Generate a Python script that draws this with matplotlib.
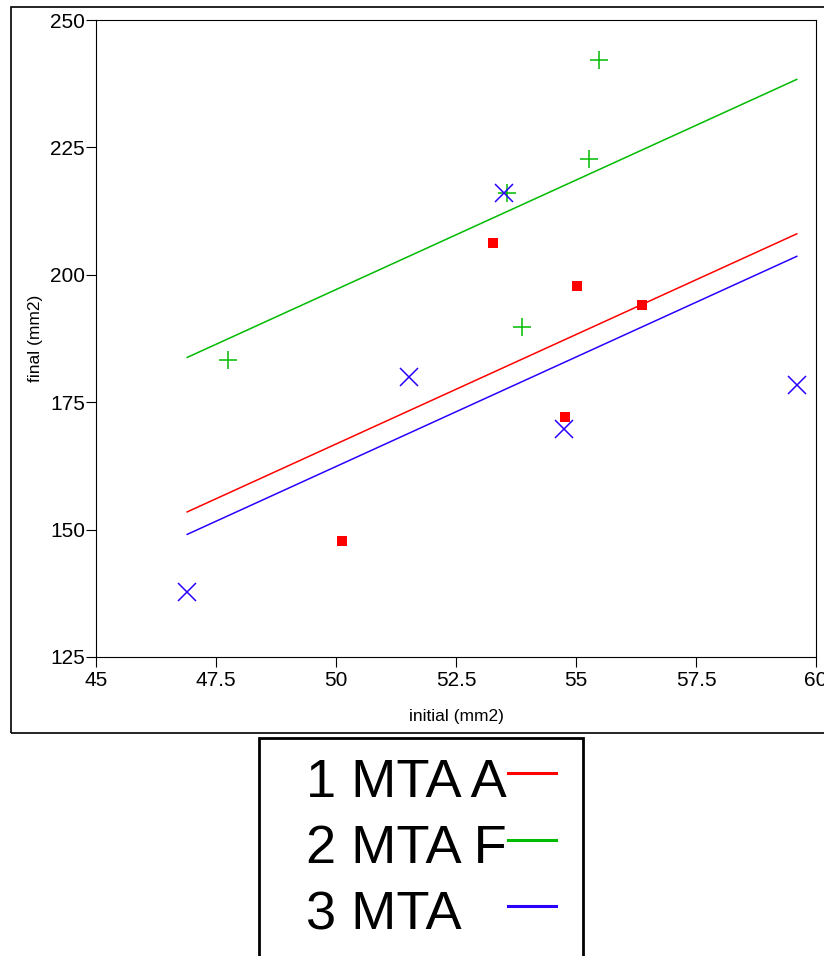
import matplotlib
matplotlib.use("Agg")
import matplotlib.pyplot as plt
import numpy as np
from matplotlib.patches import Rectangle
from matplotlib.lines import Line2D

plt.rcParams['font.family'] = ['Liberation Sans', 'DejaVu Sans']

# data
groups = ['1 MTA A', '2 MTA F', '3 MTA']
colors = ['#FF0000', '#00BB00', '#2B00FF']
markers = ['s', '+', 'x']
msizes = [7, 13, 13]

x_a = [50.12, 53.27, 55.02, 56.38, 54.77]
y_a = [147.8, 206.2, 197.8, 194.1, 172.1]
x_f = [47.75, 55.48, 55.27, 53.88, 53.56]
y_f = [183.3, 242.2, 222.7, 189.8, 216.0]
x_m = [46.90, 51.52, 53.50, 54.75, 59.60]
y_m = [137.8, 179.9, 216.0, 169.7, 178.4]

xs = [np.array(x_a), np.array(x_f), np.array(x_m)]
ys = [np.array(y_a), np.array(y_f), np.array(y_m)]

# common slope fit (parallel lines)
sxy = sum(((x - x.mean()) * (y - y.mean())).sum() for x, y in zip(xs, ys))
sxx = sum(((x - x.mean()) ** 2).sum() for x in xs)
slope = sxy / sxx
xmin = min(x.min() for x in xs)
xmax = max(x.max() for x in xs)
xl = np.array([xmin, xmax])

W, H = 824, 956
fig = plt.figure(figsize=(W / 100, H / 100), dpi=100)
ax = fig.add_axes([96 / W, 1 - 657 / H, 720 / W, 637 / H])

for x, y, c, m, ms in zip(xs, ys, colors, markers, msizes):
    ax.plot(x, y, linestyle='none', marker=m, color=c, markersize=ms,
            markeredgewidth=1.1 if m != 's' else 0)
    ax.plot(xl, y.mean() + slope * (xl - x.mean()), color=c, linewidth=1.1)

ax.set_xlim(45, 60)
ax.set_ylim(125, 250)
ax.set_xticks([45, 47.5, 50, 52.5, 55, 57.5, 60])
ax.set_xticklabels(['45', '47.5', '50', '52.5', '55', '57.5', '60'])
ax.set_yticks([125, 150, 175, 200, 225, 250])
ax.tick_params(direction='out', length=7, width=0.8, labelsize=15, pad=1)
ax.tick_params(axis='x', pad=3)
for s in ax.spines.values():
    s.set_linewidth(0.8)
ax.set_xlabel('initial (mm2)', fontsize=12.5, labelpad=14)
ax.set_ylabel('final (mm2)', fontsize=12.5, labelpad=5)

# outer frame
fig.patches.append(Rectangle((11 / W, 1 - 733 / H), 830 / W, 726 / H,
                             transform=fig.transFigure, fill=False,
                             edgecolor='black', linewidth=1.2))

# legend box
fig.patches.append(Rectangle((259 / W, -0.01), 324 / W, 1 - 738 / H + 0.01,
                             transform=fig.transFigure, fill=False,
                             edgecolor='black', linewidth=2))
rows_y = [783, 849, 916]
line_y = [773, 840, 906]
for g, c, ty, ly in zip(groups, colors, rows_y, line_y):
    fig.text(306 / W, 1 - ty / H, g, fontsize=39, va='center', ha='left')
    fig.lines.append(Line2D([508 / W, 556 / W], [1 - ly / H, 1 - ly / H],
                            transform=fig.transFigure, color=c, linewidth=2.2))

fig.savefig('out.png', dpi=100)
